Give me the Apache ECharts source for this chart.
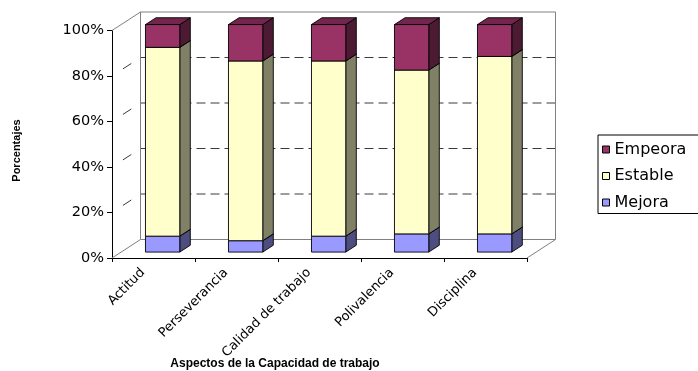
<!DOCTYPE html>
<html>
<head>
<meta charset="utf-8">
<script src="https://cdn.jsdelivr.net/npm/echarts@6/dist/echarts.min.js"></script>
<style>
  html, body { margin: 0; padding: 0; background: #fff; }
  #chart { width: 698px; height: 371px; }
</style>
</head>
<body>
<div id="chart"></div>
<script>
// Categories and stacked shares (percent of each aspect)
const categories = ['Actitud', 'Perseverancia', 'Calidad de trabajo', 'Polivalencia', 'Disciplina'];
const mejora  = [7, 5, 7, 8, 8];
const estable = [83, 79, 77, 72, 78];
const empeora = [10, 16, 16, 20, 14];
const yTicks  = [0, 20, 40, 60, 80, 100];

// Depth of the 3D box (screen offset from front plane to back wall)
const DEPTH_X = 28.5, DEPTH_Y = -18.5;
// Bar placement inside a category band / inside the box depth
const BAR_FRONT = 0.32, BAR_DEPTH = 0.37, BAR_WIDTH = 0.413;

function shade(hex, k) {
  const n = parseInt(hex.slice(1), 16);
  const r = Math.round(((n >> 16) & 255) * k);
  const g = Math.round(((n >> 8) & 255) * k);
  const b = Math.round((n & 255) * k);
  return 'rgb(' + r + ',' + g + ',' + b + ')';
}

// Turn a series into [categoryIndex, lower, upper] rows stacked on top of `below`
function stackRows(values, below) {
  return values.map((v, i) => [i, below[i], below[i] + v]);
}
const mejoraRows  = stackRows(mejora, categories.map(() => 0));
const estableRows = stackRows(estable, mejora);
const empeoraRows = stackRows(empeora, mejora.map((v, i) => v + estable[i]));

// Prism-shaped bar segment: side face, top face, front face
function renderBar(color) {
  return function (params, api) {
    const i = api.value(0), lo = api.value(1), hi = api.value(2);
    const band = api.size([1, 0])[0];
    const w = band * BAR_WIDTH;
    const ox = BAR_FRONT * DEPTH_X, oy = BAR_FRONT * DEPTH_Y;
    const dx = BAR_DEPTH * DEPTH_X, dy = BAR_DEPTH * DEPTH_Y;
    const pLo = api.coord([i, lo]), pHi = api.coord([i, hi]);
    const xl = pLo[0] - w / 2 + ox, xr = xl + w;
    const yb = pLo[1] + oy, yt = pHi[1] + oy;
    const edge = { stroke: '#000', lineWidth: 0.9, lineJoin: 'round' };
    return {
      type: 'group',
      children: [
        { type: 'polygon', shape: { points: [[xr, yb], [xr, yt], [xr + dx, yt + dy], [xr + dx, yb + dy]] },
          style: Object.assign({ fill: shade(color, 0.5) }, edge) },
        { type: 'polygon', shape: { points: [[xl, yt], [xl + dx, yt + dy], [xr + dx, yt + dy], [xr, yt]] },
          style: Object.assign({ fill: shade(color, 0.75) }, edge) },
        { type: 'rect', shape: { x: xl, y: yt, width: w, height: yb - yt },
          style: Object.assign({ fill: color }, edge) }
      ]
    };
  };
}

// Walls of the box: gridline on the side wall and the back wall for each tick
function renderWalls(params, api) {
  const v = api.value(0);
  const band = api.size([1, 0])[0];
  const p = api.coord([0, v]);
  const x0 = p[0] - band / 2;
  const x1 = api.coord([categories.length - 1, v])[0] + band / 2;
  const y = p[1];
  const first = v === yTicks[0], last = v === yTicks[yTicks.length - 1];
  const solid = { stroke: '#808080', lineWidth: 1, fill: null };
  const backStyle = (first || last) ? solid : { stroke: '#3a3a3a', lineWidth: 1, lineDash: [9, 5], fill: null };
  const sideStyle = (first || last) ? solid : { stroke: '#3a3a3a', lineWidth: 1, lineDash: [10, 13], lineDashOffset: 10, fill: null };
  const children = [
    { type: 'line', shape: { x1: x0, y1: y, x2: x0 + DEPTH_X, y2: y + DEPTH_Y }, style: sideStyle },
    { type: 'line', shape: { x1: x0 + DEPTH_X, y1: y + DEPTH_Y, x2: x1 + DEPTH_X, y2: y + DEPTH_Y }, style: backStyle }
  ];
  if (first) {
    children.push({ type: 'line', shape: { x1: x1, y1: y, x2: x1 + DEPTH_X, y2: y + DEPTH_Y }, style: solid });
  }
  if (last) {
    const yBottom = api.coord([0, yTicks[0]])[1] + DEPTH_Y;
    children.push({ type: 'line', shape: { x1: x0 + DEPTH_X, y1: y + DEPTH_Y, x2: x0 + DEPTH_X, y2: yBottom }, style: solid });
    children.push({ type: 'line', shape: { x1: x1 + DEPTH_X, y1: y + DEPTH_Y, x2: x1 + DEPTH_X, y2: yBottom }, style: solid });
  }
  return { type: 'group', children: children };
}

const colors = { Empeora: '#993366', Estable: '#FFFFCC', Mejora: '#9999FF' };

const chart = echarts.init(document.getElementById('chart'));
chart.setOption({
  backgroundColor: '#fff',
  animation: false,
  grid: { left: 112, right: 171, top: 30.5, bottom: 113, containLabel: false },
  xAxis: {
    type: 'category',
    data: categories,
    boundaryGap: true,
    axisLine: { lineStyle: { color: '#000', width: 1 } },
    axisTick: { show: true, length: 4, lineStyle: { color: '#000' } },
    axisLabel: {
      interval: 0, rotate: 45, margin: 2, padding: [0, 15, 0, 0],
      fontFamily: 'DejaVu Sans', fontSize: 13, color: '#000'
    },
    splitLine: { show: false }
  },
  yAxis: {
    type: 'value',
    min: 0, max: 100, interval: 20,
    axisLine: { show: true, lineStyle: { color: '#000', width: 1 } },
    axisTick: { show: true, length: 5, lineStyle: { color: '#000' } },
    axisLabel: { formatter: '{value}%', margin: 8, fontFamily: 'DejaVu Sans', fontSize: 14.5, color: '#000' },
    splitLine: { show: false }
  },
  legend: {
    data: ['Empeora', 'Estable', 'Mejora'],
    orient: 'vertical',
    left: 598, top: 135,
    padding: [6.5, 60, 3, 4],
    itemWidth: 7, itemHeight: 7, itemGap: 10.5,
    icon: 'rect',
    borderColor: '#000', borderWidth: 1, backgroundColor: '#fff',
    itemStyle: { borderColor: '#000', borderWidth: 1 },
    textStyle: { fontFamily: 'DejaVu Sans', fontSize: 16, lineHeight: 15, color: '#000' }
  },
  graphic: [
    {
      type: 'text', x: 17, y: 150.5, rotation: Math.PI / 2,
      style: { text: 'Porcentajes', fontFamily: 'Liberation Sans', fontWeight: 'bold', fontSize: 11,
               fill: '#000', align: 'center', verticalAlign: 'middle' }
    },
    {
      type: 'text', x: 275, y: 364,
      style: { text: 'Aspectos de la Capacidad de trabajo', fontFamily: 'Liberation Sans', fontWeight: 'bold',
               fontSize: 12, fill: '#000', align: 'center', verticalAlign: 'middle' }
    }
  ],
  series: [
    { type: 'custom', name: 'walls', z: 1, silent: true, data: yTicks.map(v => [v]),
      renderItem: renderWalls, encode: { y: 0 } },
    { type: 'custom', name: 'Mejora', z: 2, data: mejoraRows, renderItem: renderBar(colors.Mejora),
      itemStyle: { color: colors.Mejora, borderColor: '#000', borderWidth: 1 }, encode: { x: 0, y: [1, 2] } },
    { type: 'custom', name: 'Estable', z: 2, data: estableRows, renderItem: renderBar(colors.Estable),
      itemStyle: { color: colors.Estable, borderColor: '#000', borderWidth: 1 }, encode: { x: 0, y: [1, 2] } },
    { type: 'custom', name: 'Empeora', z: 2, data: empeoraRows, renderItem: renderBar(colors.Empeora),
      itemStyle: { color: colors.Empeora, borderColor: '#000', borderWidth: 1 }, encode: { x: 0, y: [1, 2] } }
  ]
});
</script>
</body>
</html>
